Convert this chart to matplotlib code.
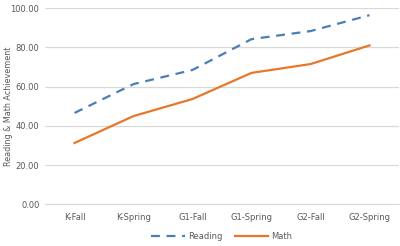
import matplotlib
matplotlib.use("Agg")
import matplotlib.pyplot as plt

categories = ["K-Fall", "K-Spring", "G1-Fall", "G1-Spring", "G2-Fall", "G2-Spring"]
reading = [46.6, 61.3, 68.5, 84.2, 88.3, 96.4]
math_vals = [31.3, 45.0, 53.7, 67.0, 71.5, 81.0]
yticks = [0, 20, 40, 60, 80, 100]

fig = plt.figure(figsize=(4.0, 2.46), dpi=100)
ax = fig.add_axes([0.1125, 0.169, 0.885, 0.798])
x = list(range(len(categories)))
ax.plot(x, reading, color="#4a7ebb", lw=1.6, ls=(0, (4, 3)), label="Reading")
ax.plot(x, math_vals, color="#e8762b", lw=1.6, label="Math")
ax.set_xlim(-0.5, len(categories) - 0.5)
ax.set_ylim(0, 100)
ax.set_yticks(yticks)
ax.set_yticklabels([f"{v:.2f}" for v in yticks])
ax.set_xticks(x)
ax.set_xticklabels(categories)
ax.grid(axis="y", color="#d9d9d9", lw=0.9)
ax.set_axisbelow(True)
for s in ["top", "right", "left"]:
    ax.spines[s].set_visible(False)
ax.spines["bottom"].set_color("#d9d9d9")
ax.tick_params(axis="x", length=0, labelsize=6, colors="#595959", pad=6)
ax.tick_params(axis="y", length=0, labelsize=6, colors="#595959", pad=4)
ax.set_ylabel("Reading & Math Achievement", fontsize=5.8, color="#595959", va="center")
ax.yaxis.set_label_coords(-0.103, 0.5)
ax.legend(loc="upper center", bbox_to_anchor=(0.5, -0.1), ncol=2, frameon=False,
          fontsize=6, labelcolor="#595959", handlelength=4, columnspacing=1.5, handletextpad=0.4)
fig.savefig("out.png", dpi=100)
